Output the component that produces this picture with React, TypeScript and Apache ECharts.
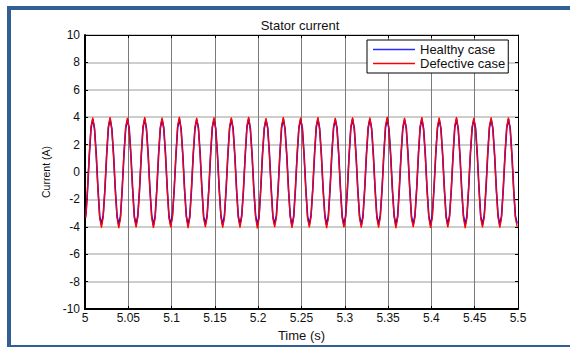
import React, { useEffect, useRef } from "react";
import * as echarts from "echarts";

const title = "Stator current";
const xName = "Time (s)";
const yName = "Current (A)";
const seriesNames = ["Healthy case", "Defective case"];
const seriesColors = ["#0000ff", "#ff0000"];
const legendColors = ["#2a2aff", "#ff0000"];
const tStart = 5.001;
const tStep = 0.002;

const healthy: number[] = [
  -3.18,-1.26,1.22,3.21,3.86,3.19,1.28,-1.21,-3.22,-3.84,
  -3.15,-1.31,1.19,3.24,3.88,3.17,1.25,-1.24,-3.19,-3.87,
  -3.21,-1.24,1.27,3.18,3.83,3.22,1.30,-1.18,-3.25,-3.82,
  -3.16,-1.29,1.21,3.23,3.87,3.16,1.24,-1.26,-3.17,-3.89,
  -3.20,-1.22,1.25,3.19,3.84,3.21,1.29,-1.20,-3.23,-3.85,
  -3.14,-1.30,1.18,3.25,3.89,3.15,1.23,-1.25,-3.18,-3.86,
  -3.22,-1.25,1.26,3.17,3.82,3.23,1.31,-1.19,-3.24,-3.83,
  -3.17,-1.28,1.20,3.22,3.86,3.18,1.26,-1.23,-3.20,-3.88,
  -3.19,-1.23,1.24,3.20,3.85,3.20,1.27,-1.22,-3.21,-3.84,
  -3.15,-1.32,1.17,3.26,3.90,3.14,1.22,-1.27,-3.16,-3.87,
  -3.23,-1.21,1.28,3.16,3.81,3.24,1.32,-1.17,-3.26,-3.82,
  -3.16,-1.27,1.21,3.23,3.87,3.17,1.25,-1.24,-3.18,-3.89,
  -3.20,-1.24,1.25,3.19,3.84,3.21,1.28,-1.20,-3.22,-3.85,
  -3.14,-1.30,1.19,3.24,3.88,3.16,1.24,-1.26,-3.17,-3.86,
  -3.21,-1.23,1.26,3.18,3.83,3.22,1.30,-1.19,-3.24,-3.83,
  -3.17,-1.29,1.20,3.22,3.86,3.18,1.26,-1.23,-3.19,-3.88,
  -3.19,-1.25,1.23,3.20,3.85,3.19,1.27,-1.22,-3.21,-3.84,
  -3.15,-1.31,1.18,3.25,3.89,3.15,1.23,-1.25,-3.17,-3.87,
  -3.22,-1.22,1.27,3.17,3.82,3.23,1.31,-1.18,-3.25,-3.83,
  -3.16,-1.28,1.21,3.23,3.87,3.17,1.25,-1.24,-3.18,-3.88,
  -3.20,-1.24,1.24,3.19,3.84,3.20,1.28,-1.21,-3.22,-3.85,
  -3.14,-1.30,1.19,3.24,3.88,3.16,1.24,-1.26,-3.17,-3.86,
  -3.21,-1.23,1.26,3.18,3.83,3.22,1.29,-1.19,-3.24,-3.84,
  -3.17,-1.29,1.20,3.22,3.86,3.18,1.26,-1.23,-3.19,-3.87,
  -3.19,-1.25,1.23,3.20,3.85,3.19,1.27,-1.22,-3.21,-3.76,
];

const defective: number[] = [
  -3.34,-1.10,1.39,3.33,3.98,3.07,1.11,-1.38,-3.36,-4.06,
  -3.30,-1.16,1.34,3.36,4.01,3.05,1.14,-1.40,-3.32,-4.09,
  -3.36,-1.08,1.41,3.30,3.96,3.10,1.16,-1.35,-3.38,-4.04,
  -3.31,-1.14,1.36,3.35,4.00,3.04,1.10,-1.41,-3.31,-4.08,
  -3.35,-1.09,1.40,3.31,3.97,3.09,1.15,-1.36,-3.37,-4.05,
  -3.29,-1.17,1.33,3.37,4.02,3.03,1.09,-1.42,-3.30,-4.10,
  -3.37,-1.07,1.42,3.29,3.95,3.11,1.17,-1.34,-3.39,-4.03,
  -3.32,-1.13,1.37,3.34,3.99,3.06,1.12,-1.39,-3.33,-4.07,
  -3.34,-1.11,1.38,3.32,3.98,3.08,1.13,-1.37,-3.35,-4.06,
  -3.28,-1.18,1.32,3.38,4.03,3.02,1.08,-1.43,-3.29,-4.11,
  -3.38,-1.06,1.43,3.28,3.94,3.12,1.18,-1.33,-3.40,-4.02,
  -3.31,-1.15,1.35,3.35,4.00,3.05,1.11,-1.40,-3.32,-4.08,
  -3.35,-1.10,1.39,3.31,3.97,3.09,1.14,-1.36,-3.36,-4.05,
  -3.30,-1.16,1.34,3.36,4.01,3.04,1.10,-1.41,-3.31,-4.09,
  -3.36,-1.08,1.41,3.30,3.96,3.10,1.16,-1.35,-3.38,-4.04,
  -3.32,-1.14,1.36,3.34,3.99,3.06,1.12,-1.39,-3.33,-4.07,
  -3.34,-1.11,1.38,3.32,3.98,3.08,1.13,-1.37,-3.35,-4.06,
  -3.29,-1.17,1.33,3.37,4.02,3.03,1.09,-1.42,-3.30,-4.10,
  -3.37,-1.07,1.42,3.29,3.95,3.11,1.17,-1.34,-3.39,-4.03,
  -3.31,-1.14,1.36,3.35,4.00,3.05,1.11,-1.40,-3.32,-4.08,
  -3.35,-1.10,1.39,3.31,3.97,3.09,1.14,-1.36,-3.36,-4.05,
  -3.30,-1.16,1.34,3.36,4.01,3.04,1.10,-1.41,-3.31,-4.09,
  -3.36,-1.08,1.40,3.30,3.96,3.10,1.15,-1.35,-3.38,-4.04,
  -3.32,-1.13,1.37,3.34,3.99,3.06,1.12,-1.39,-3.33,-4.07,
  -3.34,-1.11,1.38,3.32,3.98,3.08,1.13,-1.37,-3.35,-3.98,
];

const FONT = "'Liberation Sans', Arial, sans-serif";
const FRAME = "#325f94";

export default function App() {
  const ref = useRef<HTMLDivElement>(null);
  useEffect(() => {
    if (!ref.current) return;
    const chart = echarts.init(ref.current, undefined, { renderer: "svg" });
    const pts = (vals: number[]) =>
      vals.map((v, i) => [+(tStart + i * tStep).toFixed(4), v]);
    const fmtX = (v: number) => String(parseFloat(v.toFixed(2)));
    chart.setOption({
      animation: false,
      backgroundColor: "#ffffff",
      title: {
        text: title,
        left: 300,
        top: 19,
        padding: 0,
        textAlign: "center",
        textStyle: { fontFamily: FONT, fontSize: 13, lineHeight: 13, fontWeight: "normal", color: "#111" },
      },
      grid: { left: 85, right: 52, top: 35, bottom: 38 },
      legend: {
        orient: "vertical",
        left: 367,
        top: 40,
        padding: [3, 3, 3, 6],
        itemGap: 1,
        itemWidth: 42,
        itemHeight: 1.6,
        icon: "rect",
        backgroundColor: "#ffffff",
        borderColor: "#000",
        borderWidth: 1,
        textStyle: { fontFamily: FONT, fontSize: 13, lineHeight: 13, color: "#111" },
        data: seriesNames.map((n, i) => ({
          name: n,
          itemStyle: { color: legendColors[i], borderColor: legendColors[i], borderWidth: 0 },
          lineStyle: { color: legendColors[i], width: 0 },
        })),
      },
      graphic: [
        { type: "rect", z: 100, shape: { x: 7, y: 6, width: 563, height: 4 }, style: { fill: FRAME } },
        { type: "rect", z: 100, shape: { x: 7, y: 6, width: 4, height: 341 }, style: { fill: FRAME } },
        { type: "rect", z: 100, shape: { x: 7, y: 345, width: 563, height: 2 }, style: { fill: FRAME } },
      ],
      xAxis: [
        {
          type: "value",
          min: 5,
          max: 5.5,
          interval: 0.05,
          name: xName,
          nameLocation: "middle",
          nameGap: 15,
          nameTextStyle: { fontFamily: FONT, fontSize: 13, color: "#111" },
          axisLine: { show: true, onZero: false, lineStyle: { color: "#000", width: 2 } },
          axisTick: { show: true, inside: true, length: 3, lineStyle: { color: "#000" } },
          axisLabel: { formatter: fmtX, margin: 3, fontFamily: FONT, fontSize: 12, color: "#111" },
          splitLine: { show: true, lineStyle: { color: "#7a7a7a", width: 1 } },
        },
        {
          type: "value",
          position: "top",
          min: 5,
          max: 5.5,
          interval: 0.05,
          axisLine: { show: true, onZero: false, lineStyle: { color: "#000", width: 1 } },
          axisTick: { show: true, inside: true, length: 3, lineStyle: { color: "#000" } },
          axisLabel: { show: false },
          splitLine: { show: false },
        },
      ],
      yAxis: [
        {
          type: "value",
          min: -10,
          max: 10,
          interval: 2,
          name: yName,
          nameLocation: "middle",
          nameGap: 31,
          nameTextStyle: { fontFamily: FONT, fontSize: 10.5, color: "#111" },
          axisLine: { show: true, onZero: false, lineStyle: { color: "#000", width: 2 } },
          axisTick: { show: true, inside: true, length: 3, lineStyle: { color: "#000" } },
          axisLabel: { margin: 5, fontFamily: FONT, fontSize: 12, color: "#111" },
          splitLine: { show: true, lineStyle: { color: "#bdbdbd", width: 1.5 } },
        },
        {
          type: "value",
          position: "right",
          min: -10,
          max: 10,
          interval: 2,
          axisLine: { show: true, onZero: false, lineStyle: { color: "#000", width: 1 } },
          axisTick: { show: true, inside: true, length: 3, lineStyle: { color: "#000" } },
          axisLabel: { show: false },
          splitLine: { show: false },
        },
      ],
      series: [
        {
          name: seriesNames[0],
          type: "line",
          data: pts(healthy),
          showSymbol: false,
          symbol: "none",
          itemStyle: { color: seriesColors[0] },
          lineStyle: { color: seriesColors[0], width: 1.6 },
          z: 2,
        },
        {
          name: seriesNames[1],
          type: "line",
          data: pts(defective),
          showSymbol: false,
          symbol: "none",
          itemStyle: { color: seriesColors[1] },
          lineStyle: { color: seriesColors[1], width: 1.3 },
          z: 3,
        },
      ],
    });
    return () => chart.dispose();
  }, []);
  return (
    <div
      ref={ref}
      style={{ position: "fixed", left: 0, top: 0, width: 570, height: 347 }}
    />
  );
}
